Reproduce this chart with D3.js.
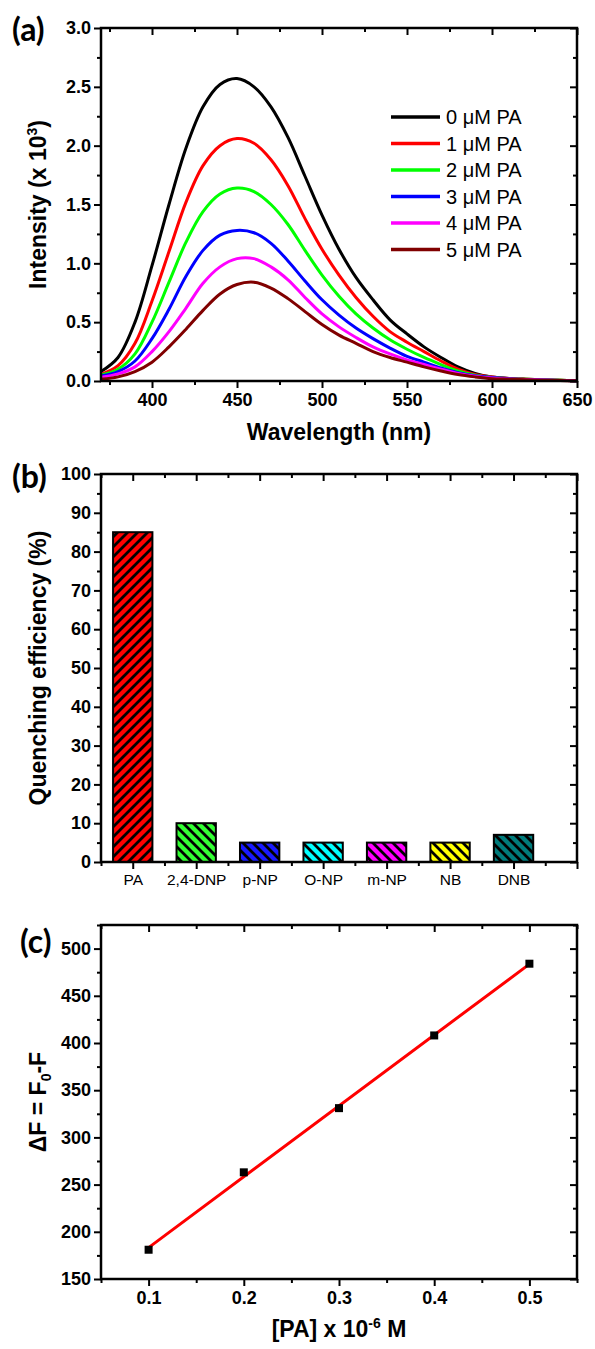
<!DOCTYPE html>
<html>
<head>
<meta charset="utf-8">
<script src="https://cdn.jsdelivr.net/npm/d3@7"></script>
<style>
  body { margin: 0; background: #fff; }
  text { font-family: "Liberation Sans", Arial, sans-serif; }
</style>
</head>
<body>
<svg width="595" height="1349"></svg>
<script>
// panel (a): emission spectra
const wavelengths = [370, 380, 390, 400, 410, 420, 430, 440, 450, 460, 470, 480, 490, 500,
  510, 520, 530, 540, 550, 560, 570, 580, 590, 600, 610, 620, 630, 640, 650];
const pa0 = [0.08, 0.20, 0.50, 0.98, 1.50, 1.98, 2.33, 2.52, 2.57, 2.50, 2.33, 2.07, 1.74, 1.41,
  1.12, 0.88, 0.69, 0.52, 0.40, 0.29, 0.20, 0.12, 0.065, 0.035, 0.022, 0.015, 0.01, 0.006, 0.003];
const pa1 = [0.057, 0.13, 0.32, 0.68, 1.10, 1.52, 1.83, 2.00, 2.06, 2.02, 1.88, 1.66, 1.38, 1.12,
  0.90, 0.71, 0.55, 0.42, 0.33, 0.25, 0.17, 0.10, 0.055, 0.035, 0.022, 0.015, 0.01, 0.006, 0.003];
const pa2 = [0.051, 0.10, 0.23, 0.50, 0.84, 1.18, 1.44, 1.59, 1.64, 1.61, 1.50, 1.33, 1.11, 0.90,
  0.72, 0.57, 0.45, 0.35, 0.27, 0.20, 0.14, 0.085, 0.05, 0.03, 0.02, 0.014, 0.01, 0.006, 0.003];
const pa3 = [0.042, 0.08, 0.17, 0.36, 0.61, 0.89, 1.11, 1.24, 1.28, 1.26, 1.17, 1.02, 0.85, 0.69,
  0.56, 0.45, 0.36, 0.28, 0.21, 0.16, 0.11, 0.07, 0.045, 0.03, 0.02, 0.013, 0.009, 0.005, 0.003];
const pa4 = [0.031, 0.06, 0.12, 0.25, 0.42, 0.62, 0.83, 0.97, 1.04, 1.04, 0.97, 0.86, 0.71, 0.57,
  0.46, 0.37, 0.29, 0.23, 0.18, 0.14, 0.10, 0.065, 0.04, 0.025, 0.017, 0.012, 0.008, 0.005, 0.003];
const pa5 = [0.014, 0.035, 0.08, 0.16, 0.29, 0.44, 0.60, 0.74, 0.82, 0.84, 0.79, 0.70, 0.59, 0.48,
  0.39, 0.32, 0.25, 0.20, 0.16, 0.12, 0.085, 0.055, 0.035, 0.02, 0.015, 0.01, 0.007, 0.004, 0.002];
const spectra = [pa0, pa1, pa2, pa3, pa4, pa5];
const spectraLabels = ["0 μM PA", "1 μM PA", "2 μM PA", "3 μM PA", "4 μM PA", "5 μM PA"];
const spectraColors = ["#000000", "#ff0000", "#00ff00", "#0000ff", "#ff00ff", "#800000"];

// panel (b): quenching efficiency
const analytes = ["PA", "2,4-DNP", "p-NP", "O-NP", "m-NP", "NB", "DNB"];
const quenching = [85, 10, 5, 5, 5, 5, 7];
const barColors = ["#ff0000", "#33ff33", "#1a1aff", "#00ffff", "#ff00ff", "#ffff00", "#007b7b"];

// panel (c): linear fit
const paConc = [0.1, 0.2, 0.3, 0.4, 0.5];
const deltaF = [181, 263, 331, 408, 484];

const svg = d3.select("svg");
const left = 101, right = 577;
const boldTick = "bold";

function styleTicks(sel, size, weight) {
  sel.attr("font-size", size).attr("font-weight", weight)
    .attr("font-family", '"Liberation Sans", Arial, sans-serif');
  sel.selectAll(".domain").remove();
  sel.selectAll(".tick line").attr("stroke-width", 2);
  return sel;
}

// draw the box with Origin-style ticks: outward on bottom/left, inward on top/right
function frame(x, y, o) {
  const [y0, y1] = y.range();
  const [x0, x1] = x.range();
  const g = svg.append("g");

  styleTicks(g.append("g").attr("transform", `translate(0,${y0})`)
    .call(d3.axisBottom(x).tickValues(o.xMajor).tickFormat(o.xFormat)
      .tickSize(7).tickSizeOuter(0).tickPadding(5)), o.xFont || 18, o.xWeight || boldTick);
  styleTicks(g.append("g").attr("transform", `translate(0,${y0})`)
    .call(d3.axisBottom(x).tickValues(o.xMinor).tickFormat("").tickSize(4).tickSizeOuter(0)), 10, "normal");
  styleTicks(g.append("g").attr("transform", `translate(0,${y1})`)
    .call(d3.axisTop(x).tickValues(o.xMajor).tickFormat("").tickSize(-7).tickSizeOuter(0)), 10, "normal");
  styleTicks(g.append("g").attr("transform", `translate(0,${y1})`)
    .call(d3.axisTop(x).tickValues(o.xMinor).tickFormat("").tickSize(-4).tickSizeOuter(0)), 10, "normal");

  styleTicks(g.append("g").attr("transform", `translate(${x0},0)`)
    .call(d3.axisLeft(y).tickValues(o.yMajor).tickFormat(o.yFormat)
      .tickSize(7).tickSizeOuter(0).tickPadding(3)), 18, boldTick);
  styleTicks(g.append("g").attr("transform", `translate(${x0},0)`)
    .call(d3.axisLeft(y).tickValues(o.yMinor).tickFormat("").tickSize(4).tickSizeOuter(0)), 10, "normal");
  styleTicks(g.append("g").attr("transform", `translate(${x1},0)`)
    .call(d3.axisRight(y).tickValues(o.yMajor).tickFormat("").tickSize(-7).tickSizeOuter(0)), 10, "normal");
  styleTicks(g.append("g").attr("transform", `translate(${x1},0)`)
    .call(d3.axisRight(y).tickValues(o.yMinor).tickFormat("").tickSize(-4).tickSizeOuter(0)), 10, "normal");

  g.append("rect")
    .attr("x", x0).attr("y", y1)
    .attr("width", x1 - x0).attr("height", y0 - y1)
    .attr("fill", "none").attr("stroke", "#000").attr("stroke-width", 2.5);
  return g;
}

function panelLabel(txt, x, y) {
  svg.append("text").attr("x", x).attr("y", y)
    .style("font-family", "Lato, 'Open Sans', sans-serif")
    .attr("font-weight", "bold").attr("font-size", 32).text(txt);
}

function yTitle(cy) {
  return svg.append("text")
    .attr("transform", `translate(46,${cy}) rotate(-90)`)
    .attr("text-anchor", "middle").attr("font-weight", "bold").attr("font-size", 23);
}

function xTitle(y) {
  return svg.append("text")
    .attr("x", (left + right) / 2).attr("y", y)
    .attr("text-anchor", "middle").attr("font-weight", "bold").attr("font-size", 23);
}

// ---------- panel (a) ----------
const xa = d3.scaleLinear().domain([370, 650]).range([left, right]);
const ya = d3.scaleLinear().domain([0, 3]).range([381, 28]);

const line = d3.line()
  .x((d, i) => xa(wavelengths[i]))
  .y(d => ya(d))
  .curve(d3.curveCatmullRom.alpha(0.5));

svg.append("g").selectAll("path")
  .data(spectra)
  .join("path")
  .attr("d", line)
  .attr("fill", "none")
  .attr("stroke", (d, i) => spectraColors[i])
  .attr("stroke-width", 3)
  .attr("stroke-linejoin", "round");

frame(xa, ya, {
  xMajor: d3.range(400, 651, 50), xMinor: d3.range(375, 626, 50), xFormat: d3.format("d"),
  yMajor: d3.range(0, 3.01, 0.5), yMinor: d3.range(0.25, 3, 0.5), yFormat: d3.format(".1f")
});

const legend = svg.append("g").selectAll("g")
  .data(spectraLabels)
  .join("g")
  .attr("transform", (d, i) => `translate(391,${117 + i * 26.5})`);
legend.append("line")
  .attr("x1", 0).attr("x2", 49)
  .attr("stroke", (d, i) => spectraColors[i]).attr("stroke-width", 3.5);
legend.append("text")
  .attr("x", 55).attr("dy", "0.36em")
  .attr("font-size", 20)
  .text(d => d);

panelLabel("(a)", 12, 41);
const ta = yTitle((28 + 381) / 2);
ta.append("tspan").text("Intensity (x 10");
ta.append("tspan").attr("font-size", 14).attr("dy", -9).text("3");
ta.append("tspan").attr("dy", 9).text(")");
xTitle(440).text("Wavelength (nm)");

// ---------- panel (b) ----------
const xb = d3.scaleLinear().domain([0.5, 8]).range([left, right]);
const yb = d3.scaleLinear().domain([0, 100]).range([862, 474]);

const defs = svg.append("defs");
barColors.forEach((c, i) => {
  const p = defs.append("pattern")
    .attr("id", "hatch" + i)
    .attr("patternUnits", "userSpaceOnUse")
    .attr("width", 10).attr("height", 10);
  p.append("rect").attr("width", 10).attr("height", 10).attr("fill", c);
  p.append("path")
    .attr("d", i === 0
      ? "M-2.5,2.5 l5,-5 M0,10 l10,-10 M7.5,12.5 l5,-5"
      : "M-2.5,7.5 l5,5 M0,0 l10,10 M7.5,-2.5 l5,5")
    .attr("stroke", "#000").attr("stroke-width", 2.8);
});

const halfW = 0.31;
svg.append("g").selectAll("rect")
  .data(quenching)
  .join("rect")
  .attr("x", (d, i) => xb(i + 1 - halfW))
  .attr("width", xb(1 + halfW) - xb(1 - halfW))
  .attr("y", d => yb(d))
  .attr("height", d => yb(0) - yb(d))
  .attr("fill", (d, i) => `url(#hatch${i})`)
  .attr("stroke", "#000").attr("stroke-width", 2);

frame(xb, yb, {
  xMajor: d3.range(1, 9), xMinor: d3.range(0.5, 8, 1),
  xFormat: d => (d <= analytes.length ? analytes[d - 1] : ""),
  xFont: 15.5, xWeight: "normal",
  yMajor: d3.range(0, 101, 10), yMinor: d3.range(5, 100, 10), yFormat: d3.format("d")
});

panelLabel("(b)", 12, 488);
yTitle((474 + 862) / 2).text("Quenching efficiency (%)");

// ---------- panel (c) ----------
const xc = d3.scaleLinear().domain([0.05, 0.55]).range([left, right]);
const yc = d3.scaleLinear().domain([150, 525]).range([1279, 925]);

// least-squares line through the points
const mx = d3.mean(paConc), my = d3.mean(deltaF);
const slope = d3.sum(paConc, (x, i) => (x - mx) * (deltaF[i] - my)) / d3.sum(paConc, x => (x - mx) ** 2);
const fitX = d3.extent(paConc);

svg.append("line")
  .attr("x1", xc(fitX[0])).attr("y1", yc(my + slope * (fitX[0] - mx)))
  .attr("x2", xc(fitX[1])).attr("y2", yc(my + slope * (fitX[1] - mx)))
  .attr("stroke", "#ff0000").attr("stroke-width", 3).attr("stroke-linecap", "round");

svg.append("g").selectAll("rect")
  .data(deltaF)
  .join("rect")
  .attr("x", (d, i) => xc(paConc[i]) - 4)
  .attr("y", d => yc(d) - 4)
  .attr("width", 8).attr("height", 8)
  .attr("fill", "#000");

frame(xc, yc, {
  xMajor: d3.range(0.1, 0.51, 0.1), xMinor: d3.range(0.05, 0.56, 0.1), xFormat: d3.format(".1f"),
  yMajor: d3.range(150, 501, 50), yMinor: d3.range(175, 526, 50), yFormat: d3.format("d")
});

panelLabel("(c)", 20, 953);
const tc = yTitle((925 + 1279) / 2);
tc.append("tspan").text("ΔF = F");
tc.append("tspan").attr("font-size", 14).attr("dy", 5).text("0");
tc.append("tspan").attr("dy", -5).text("-F");
const xtc = xTitle(1337);
xtc.append("tspan").text("[PA] x 10");
xtc.append("tspan").attr("font-size", 14).attr("dy", -9).text("-6");
xtc.append("tspan").attr("dy", 9).text(" M");
</script>
</body>
</html>
